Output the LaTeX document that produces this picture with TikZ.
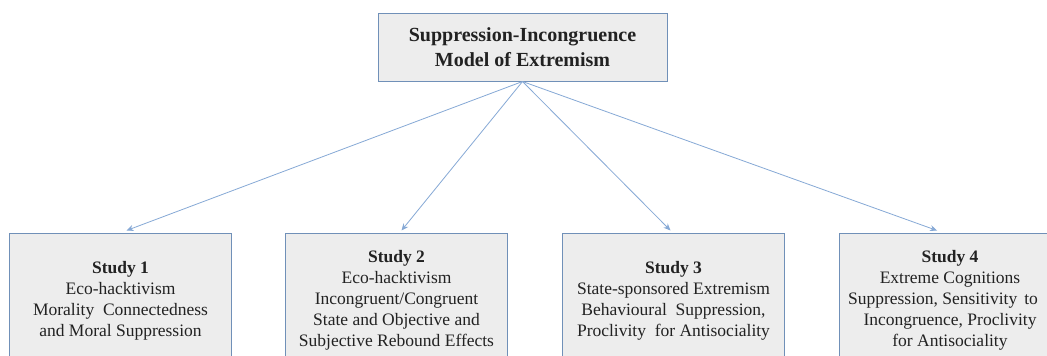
\documentclass[tikz,border=0pt]{standalone}
\usepackage{fontspec}
\setmainfont{Liberation Serif}
\usetikzlibrary{arrows.meta}
\definecolor{boxfill}{HTML}{EDEDED}
\definecolor{boxline}{HTML}{7090B8}
\definecolor{linkblue}{HTML}{86A9D6}
\definecolor{inktext}{HTML}{222222}
\tikzset{
  modelbox/.style={draw=boxline, line width=1pt, fill=boxfill, align=center,
    minimum width=289pt, minimum height=68pt, inner sep=0pt, text=inktext,
    font=\fontsize{20}{25}\selectfont\bfseries},
  studybox/.style={draw=boxline, line width=1pt, fill=boxfill, align=center,
    minimum width=222pt, minimum height=135pt, inner sep=0pt, text=inktext,
    font=\fontsize{17.5}{21}\selectfont},
  link/.style={draw=linkblue, line width=0.8pt, -{Stealth[length=7pt,width=6pt]}}
}
\begin{document}
\begin{tikzpicture}[x=1pt,y=-1pt]
\useasboundingbox (0,0) rectangle (1047,356);
\clip (0,0) rectangle (1047,356);
\fill[white] (0,0) rectangle (1047,356);

% top-level model
\node[modelbox] (model) at (522.5,47) {\raisebox{-2pt}{Suppression-Incongruence}\\\raisebox{-2pt}{Model of Extremism}};

% the four studies
\node[studybox] (s1) at (120.5,300.5) {\textbf{Study 1}\\Eco-hacktivism\\Morality\ \ Connectedness\\and Moral Suppression};
\node[studybox] (s2) at (396.5,300.5) {\textbf{Study 2}\\Eco-hacktivism\\Incongruent/Congruent\\State and Objective and\\Subjective Rebound Effects};
\node[studybox] (s3) at (673.5,300.5) {\textbf{Study 3}\\State-sponsored Extremism\\Behavioural\ \ Suppression,\\Proclivity\ \ for Antisociality};
\node[studybox] (s4) at (950,300.5) {\textbf{Study 4}\\Extreme Cognitions\\\hspace*{-14pt}Suppression, Sensitivity\hspace{7pt}to\\Incongruence, Proclivity\\for Antisociality};

\draw[link] (model.south) -- ([xshift=6pt,yshift=2pt]s1.north);
\draw[link] (model.south) -- ([xshift=5pt,yshift=2pt]s2.north);
\draw[link] (model.south) -- ([xshift=-3pt,yshift=2pt]s3.north);
\draw[link] (model.south) -- ([xshift=-13pt,yshift=2pt]s4.north);
\end{tikzpicture}
\end{document}
